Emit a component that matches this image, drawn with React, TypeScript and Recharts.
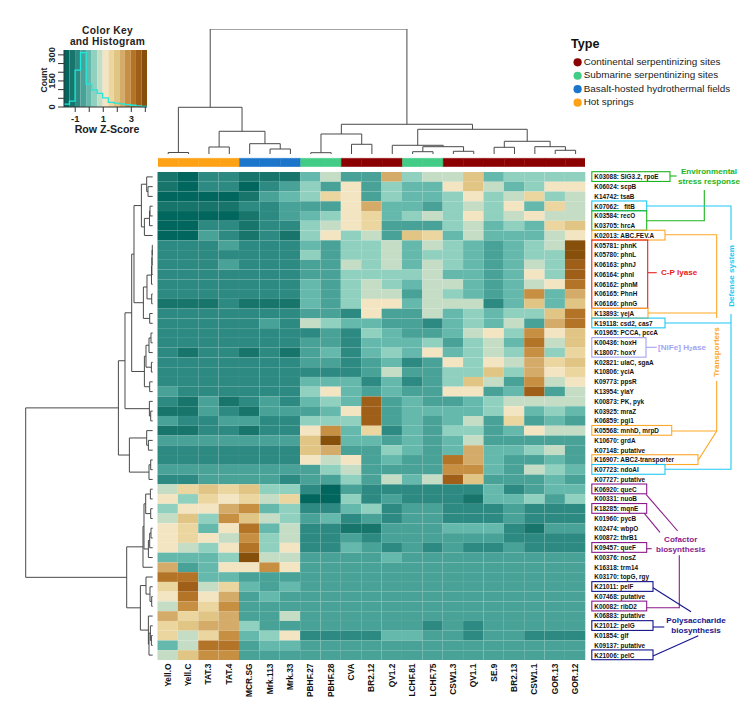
import React from 'react';
import {
  ComposedChart,
  Line,
  ReferenceArea,
  Scatter,
  ScatterChart,
  XAxis,
  YAxis,
} from 'recharts';

const FONT = '"Liberation Sans", Arial, sans-serif';

/* ─── Data ────────────────────────────────────────────────────────────── */

const SITES = [
  'Yell.O', 'Yell.C', 'TAT.3', 'TAT.4', 'MCR.SG', 'Mrk.113', 'Mrk.33', 'PBHF.27', 'PBHF.28', 'CVA', 'BR2.12',
  'QV1.2', 'LCHF.81', 'LCHF.75', 'CSW1.3', 'QV1.1', 'SE.9', 'BR2.13', 'CSW1.1', 'GOR.13', 'GOR.12',
];

const SITE_TYPES = [3, 3, 3, 3, 2, 2, 2, 1, 1, 0, 0, 0, 1, 1, 0, 0, 0, 0, 0, 0, 0];

const TYPE_NAMES = [
  'Continental serpentinizing sites',
  'Submarine serpentinizing sites',
  'Basalt-hosted hydrothermal fields',
  'Hot springs',
];
const TYPE_COLORS = ['#8B0000', '#42CC85', '#1B75CB', '#FFA114'];

const GENES = [
  'K03088: SIG3.2, rpoE', 'K06024: scpB', 'K14742: tsaB', 'K07062:\u00a0\u00a0\u00a0fitB', 'K03584: recO', 'K03705: hrcA',
  'K02013: ABC.FEV.A', 'K05781: phnK', 'K05780: phnL', 'K06163: phnJ', 'K06164: phnI', 'K06162: phnM', 'K06165: PhnH',
  'K06166: phnG', 'K13893: yejA', 'K19118: csd2, cas7', 'K01965: PCCA, pccA', 'K00436: hoxH', 'K18007: hoxY',
  'K02821: ulaC, sgaA', 'K10806: yciA', 'K09773: ppsR', 'K13954: yiaY', 'K00873: PK, pyk', 'K03925: mraZ',
  'K06859: pgi1', 'K05568: mnhD, mrpD', 'K10670: grdA', 'K07148: putative', 'K16907: ABC2-transporter',
  'K07723: ndoAI', 'K07727: putative', 'K06920: queC', 'K00331: nuoB', 'K18285: mqnE', 'K01960: pycB',
  'K02474: wbpO', 'K00872: thrB1', 'K09457: queF', 'K00376: nosZ', 'K16318: trm14', 'K03170: topG, rgy',
  'K21011: pelF', 'K07468: putative', 'K00082: ribD2', 'K06883: putative', 'K21012: pelG', 'K01854: glf',
  'K09137: putative', 'K21006: pelC',
];

// colour key bands, dark teal to dark brown
const BAND_COLORS = [
  '#01665E', '#17756C', '#2D8A82', '#49A297', '#65B9AC', '#90D0BF', '#C5DCC5', '#F4E5C2',
  '#ECD6A0', '#E0C585', '#D4AB68', '#C68F42', '#B37428', '#A05F18', '#86500A',
];

// band index of each cell, one line per gene
const HEAT = [
  [1, 0, 2, 2, 1, 1, 1, 4, 6, 3, 3, 10, 5, 6, 6, 9, 4, 5, 5, 5, 5],
  [1, 0, 2, 2, 0, 2, 3, 5, 3, 7, 3, 5, 4, 4, 7, 9, 6, 4, 5, 7, 7],
  [0, 0, 0, 0, 1, 3, 4, 5, 8, 7, 3, 5, 4, 4, 5, 7, 5, 6, 8, 5, 6],
  [1, 1, 1, 1, 2, 2, 3, 3, 3, 7, 10, 4, 4, 3, 5, 6, 5, 7, 4, 8, 6],
  [0, 0, 0, 0, 1, 2, 3, 4, 5, 7, 8, 4, 5, 6, 5, 7, 5, 6, 7, 6, 6],
  [0, 0, 2, 2, 1, 2, 2, 5, 6, 7, 8, 3, 3, 3, 5, 6, 4, 5, 4, 8, 9],
  [0, 0, 3, 2, 1, 2, 1, 5, 7, 5, 6, 3, 9, 8, 4, 6, 4, 4, 4, 6, 7],
  [2, 2, 2, 3, 2, 2, 2, 4, 3, 5, 5, 6, 4, 6, 5, 4, 3, 4, 5, 6, 14],
  [2, 2, 2, 2, 2, 2, 2, 5, 3, 5, 5, 6, 4, 5, 5, 4, 3, 4, 5, 5, 14],
  [2, 2, 2, 3, 2, 2, 2, 3, 3, 6, 5, 6, 4, 6, 5, 4, 3, 4, 6, 5, 13],
  [2, 2, 2, 2, 2, 2, 2, 3, 3, 5, 5, 5, 5, 6, 4, 4, 3, 4, 7, 5, 13],
  [2, 2, 2, 2, 2, 2, 2, 4, 3, 5, 6, 5, 4, 6, 6, 4, 3, 4, 6, 7, 12],
  [2, 2, 2, 2, 2, 2, 2, 4, 3, 5, 6, 6, 3, 6, 5, 4, 3, 4, 11, 4, 10],
  [1, 1, 1, 2, 1, 1, 1, 4, 3, 5, 7, 7, 4, 6, 6, 6, 2, 4, 9, 4, 9],
  [2, 2, 2, 2, 2, 2, 2, 3, 3, 2, 7, 3, 3, 6, 4, 5, 4, 5, 5, 9, 12],
  [2, 2, 2, 2, 2, 3, 2, 6, 5, 4, 4, 3, 3, 2, 4, 5, 4, 6, 3, 10, 12],
  [2, 2, 2, 2, 2, 2, 2, 2, 3, 2, 5, 4, 3, 3, 4, 6, 7, 5, 11, 7, 9],
  [2, 2, 2, 2, 2, 2, 2, 3, 3, 2, 4, 4, 4, 5, 3, 5, 6, 4, 12, 6, 9],
  [2, 1, 2, 2, 1, 2, 1, 3, 4, 2, 4, 5, 4, 7, 4, 5, 6, 5, 11, 5, 8],
  [2, 2, 2, 2, 2, 2, 2, 3, 3, 2, 3, 4, 2, 3, 7, 5, 7, 6, 10, 8, 9],
  [2, 2, 2, 2, 2, 2, 2, 2, 2, 2, 3, 6, 3, 3, 5, 5, 9, 5, 10, 7, 8],
  [2, 2, 2, 2, 2, 2, 2, 4, 4, 4, 2, 4, 2, 3, 5, 9, 6, 3, 11, 6, 7],
  [3, 2, 2, 2, 2, 2, 2, 5, 7, 4, 3, 4, 3, 3, 7, 7, 3, 4, 13, 3, 6],
  [2, 1, 3, 1, 2, 3, 2, 4, 5, 4, 13, 3, 4, 3, 3, 4, 5, 6, 6, 6, 6],
  [1, 1, 3, 2, 1, 3, 3, 3, 4, 7, 13, 3, 4, 4, 4, 4, 5, 7, 4, 5, 4],
  [3, 2, 2, 3, 3, 2, 2, 5, 5, 5, 13, 3, 4, 3, 4, 6, 3, 8, 3, 4, 3],
  [1, 1, 2, 2, 1, 2, 2, 7, 11, 4, 8, 2, 4, 3, 5, 5, 3, 4, 7, 6, 6],
  [3, 3, 3, 3, 3, 3, 3, 9, 14, 4, 4, 3, 4, 3, 4, 6, 3, 3, 3, 3, 3],
  [2, 2, 2, 2, 2, 2, 2, 9, 10, 3, 3, 5, 4, 3, 4, 10, 4, 4, 5, 6, 3],
  [2, 2, 2, 2, 2, 2, 2, 7, 6, 7, 3, 4, 3, 3, 12, 10, 4, 3, 3, 4, 3],
  [3, 3, 3, 3, 3, 3, 3, 3, 5, 6, 3, 3, 3, 3, 11, 11, 4, 3, 6, 5, 4],
  [2, 2, 3, 3, 3, 3, 2, 3, 3, 5, 3, 6, 4, 6, 13, 9, 3, 3, 3, 4, 3],
  [6, 8, 9, 8, 9, 5, 5, 2, 0, 3, 2, 2, 2, 2, 2, 2, 4, 2, 3, 4, 4],
  [7, 5, 8, 7, 8, 6, 8, 0, 0, 5, 2, 3, 2, 2, 2, 1, 4, 4, 5, 3, 5],
  [5, 7, 7, 10, 11, 4, 5, 2, 2, 4, 5, 2, 3, 3, 2, 2, 2, 3, 2, 2, 2],
  [6, 9, 5, 11, 9, 6, 5, 3, 4, 2, 3, 2, 3, 3, 2, 2, 2, 3, 2, 2, 2],
  [7, 8, 4, 7, 12, 4, 6, 2, 2, 1, 1, 3, 3, 3, 4, 4, 4, 2, 1, 3, 3],
  [7, 8, 7, 6, 11, 5, 6, 2, 2, 3, 2, 3, 3, 3, 3, 3, 3, 2, 2, 2, 2],
  [7, 6, 5, 7, 12, 5, 7, 2, 2, 4, 3, 2, 3, 2, 3, 2, 2, 3, 2, 2, 2],
  [4, 4, 4, 5, 14, 6, 6, 3, 3, 3, 3, 4, 3, 3, 3, 3, 3, 3, 3, 3, 3],
  [10, 3, 4, 7, 7, 11, 7, 3, 3, 3, 3, 3, 3, 3, 3, 3, 3, 3, 3, 3, 3],
  [12, 12, 4, 4, 3, 3, 3, 3, 3, 3, 3, 3, 3, 3, 3, 3, 3, 3, 3, 3, 3],
  [8, 13, 6, 8, 4, 3, 4, 3, 3, 3, 3, 3, 3, 3, 3, 3, 3, 3, 3, 3, 3],
  [7, 12, 7, 10, 3, 4, 3, 3, 3, 3, 3, 3, 3, 3, 3, 3, 3, 3, 3, 3, 3],
  [6, 11, 8, 11, 3, 3, 3, 3, 3, 3, 3, 3, 3, 3, 3, 3, 3, 3, 3, 3, 3],
  [10, 8, 9, 10, 3, 3, 6, 3, 3, 3, 3, 3, 3, 3, 3, 3, 3, 3, 3, 3, 3],
  [8, 9, 10, 10, 5, 3, 3, 3, 3, 3, 3, 3, 3, 2, 3, 2, 3, 3, 3, 3, 3],
  [8, 6, 8, 11, 4, 5, 7, 2, 2, 2, 2, 4, 4, 3, 3, 2, 3, 3, 2, 2, 2],
  [4, 6, 12, 12, 3, 4, 4, 3, 3, 3, 3, 3, 3, 3, 3, 3, 3, 3, 3, 3, 3],
  [6, 9, 11, 11, 3, 3, 3, 3, 3, 3, 3, 3, 3, 3, 3, 3, 3, 3, 3, 3, 3],
];

// merges as in hclust: negative = leaf, positive = earlier merge, then the height
const TOP_TREE = [
  [-1, -2, 1.5], [-3, -4, 7], [-6, -7, 5], [-5, 3, 10.3], [2, 4, 22.7], [1, 5, 46.7], [-8, -9, 1.3],
  [-10, -11, 9.7], [7, 8, 20], [-13, -14, 2.3], [-15, -16, 2.7], [10, 11, 7.3], [-12, 12, 8.7], [-17, -18, 6.7],
  [-20, -21, 3.7], [-19, 15, 7.3], [14, 16, 12.7], [13, 17, 24.7], [9, 18, 29.7], [6, 19, 125],
];

const LEFT_TREE = [
  [-2, -3, 4.7], [-1, 1, 6], [-4, -5, 2.7], [-6, 3, 3.2], [-7, 4, 8.3], [2, 5, 11.3],
  [-8, -9, 0.4], [-10, 7, 0.6], [-11, 8, 0.8], [-12, 9, 1.2], [-13, -14, 1], [10, 11, 5.7],
  [-15, -16, 3], [12, 13, 9.3], [6, 14, 18.7], [-17, -18, 1.7], [16, -19, 3.7], [-20, -21, 1.3],
  [17, 18, 6.7], [-22, -23, 3], [19, 20, 8.3], [15, 21, 21], [-25, -26, 2], [-24, 23, 3.3],
  [22, 24, 27.7], [-28, -29, 4.3], [-27, 26, 6], [-30, -31, 2], [28, -32, 3.7], [27, 29, 23.3],
  [25, 30, 34.3], [-33, -34, 2.3], [-35, -36, 2], [32, 33, 7], [-37, -38, 1.7], [35, -39, 3],
  [36, -40, 4.3], [34, 37, 8.7], [38, -41, 9.7], [-44, -45, 1], [-43, 40, 2.7], [-42, 41, 6.7],
  [-48, -49, 1.3], [-47, 43, 2.3], [-50, 44, 3.7], [-46, 45, 4.3], [42, 46, 12.3], [39, 47, 26],
  [31, 48, 127],
];

// colour key histogram
const KEY_EDGES = [-1.8, -1.41, -1.01, -0.62, -0.22, 0.17, 0.57, 0.96, 1.36, 1.75, 2.15, 2.54, 2.94, 3.33, 3.73, 4.12];
const KEY_COUNTS = [17, 34, 212, 313, 132, 99, 78, 52, 27, 22, 18, 14, 10, 6, 3];

/* ─── Annotations on the gene labels ──────────────────────────────────── */

const GREEN = '#1DB51D';
const CYAN = '#1EC8F5';
const ORANGE = '#FFA726';
const RED = '#E82020';
const LAVENDER = '#A3A3F2';
const PURPLE = '#8B1A8B';
const NAVY = '#14148C';

// first row, last row, right edge, colour
const BOXES: [number, number, number, string][] = [
  [0, 0, 670, GREEN],
  [3, 3, 646.7, CYAN],
  [4, 5, 646.7, GREEN],
  [6, 6, 665, ORANGE],
  [7, 13, 647.7, RED],
  [14, 14, 648, ORANGE],
  [15, 15, 665, CYAN],
  [17, 18, 646, LAVENDER],
  [26, 26, 671.7, ORANGE],
  [29, 29, 698, ORANGE],
  [30, 30, 665, CYAN],
  [32, 32, 646.7, PURPLE],
  [34, 34, 646.7, PURPLE],
  [38, 38, 646.7, PURPLE],
  [42, 42, 653, NAVY],
  [44, 44, 646.7, PURPLE],
  [46, 46, 653, NAVY],
  [49, 49, 653, NAVY],
];

const CONNECTORS: [string, string][] = [
  [GREEN, '670,176 676.7,176'],
  [GREEN, '646.7,220.7 704.3,220.7 704.3,190'],
  [CYAN, '646.7,206 731,206 731,240'],
  [CYAN, '731,314 731,469.3 665,469.3'],
  [CYAN, '665,323 731,323'],
  [ORANGE, '665,234.7 716.7,234.7 716.7,318'],
  [ORANGE, '648,313 716.7,313'],
  [ORANGE, '716.7,381 716.7,431 698.3,460'],
  [ORANGE, '671.7,431 716.7,431'],
  [RED, '648,272.7 656.7,272.7'],
  [LAVENDER, '646,347.3 656.7,347.3'],
  [PURPLE, '646,494.3 677.7,531'],
  [PURPLE, '644.3,513.3 660,532.3'],
  [PURPLE, '646.7,548.7 651.7,548.7'],
  [PURPLE, '646.7,607.7 679.3,607.7 679.3,555.3'],
  [NAVY, '653,587.7 691,611.7'],
  [NAVY, '653,627 664.3,627'],
  [NAVY, '653,656 698.3,635.7'],
];

// text, x, y, colour, anchor, rotated
const NOTES: [string, number, number, string, string, boolean][] = [
  ['Environmental', 709, 171.7, GREEN, 'middle', false],
  ['stress response', 709, 181.7, GREEN, 'middle', false],
  ['Defense system', 731, 276, CYAN, 'middle', true],
  ['Transporters', 716.7, 352, ORANGE, 'middle', true],
  ['C-P lyase', 661, 272.7, RED, 'start', false],
  ['Cofactor', 680.7, 539.3, PURPLE, 'middle', false],
  ['biosynthesis', 680.7, 549.7, PURPLE, 'middle', false],
  ['Polysaccharide', 696, 620, NAVY, 'middle', false],
  ['biosynthesis', 696, 630, NAVY, 'middle', false],
];

/* ─── Layout ──────────────────────────────────────────────────────────── */

const PLOT_LEFT = 157.5;
const PLOT_RIGHT = 585.3;
const PLOT_TOP = 172;
const PLOT_BOTTOM = 660;
const CELL_W = (PLOT_RIGHT - PLOT_LEFT) / SITES.length;
const CELL_H = (PLOT_BOTTOM - PLOT_TOP) / GENES.length;
const TREE_COLOR = '#484848';

/* ─── Helpers ─────────────────────────────────────────────────────────── */

const cells = HEAT.flatMap((row, r) =>
  row.map((band, c) => ({ col: c + 0.5, row: r + 0.5, band })),
);
const colTicks = SITES.map((_, i) => i + 0.5);
const rowTicks = GENES.map((_, i) => i + 0.5);
const keyData = [
  ...KEY_COUNTS.map((count, i) => ({ z: KEY_EDGES[i], count })),
  { z: KEY_EDGES[KEY_EDGES.length - 1], count: KEY_COUNTS[KEY_COUNTS.length - 1] },
];

// each merge becomes a 4-point bracket in (position, height)
function brackets(merges: number[][]) {
  const pos: number[] = [];
  const hgt: number[] = [];
  return merges.map(([a, b, h]) => {
    const pa = a < 0 ? -a - 0.5 : pos[a - 1];
    const pb = b < 0 ? -b - 0.5 : pos[b - 1];
    const ha = a < 0 ? 0 : hgt[a - 1];
    const hb = b < 0 ? 0 : hgt[b - 1];
    pos.push((pa + pb) / 2);
    hgt.push(h);
    return [
      { p: pa, h: ha },
      { p: pa, h },
      { p: pb, h },
      { p: pb, h: hb },
    ];
  });
}

const NoDot = () => <g />;

function HeatCell(props: any) {
  const { cx, cy, payload } = props;
  return (
    <rect
      x={cx - CELL_W / 2}
      y={cy - CELL_H / 2}
      width={CELL_W}
      height={CELL_H}
      fill={BAND_COLORS[payload.band]}
      stroke="rgba(255,255,255,0.04)"
      strokeWidth={0.6}
    />
  );
}

function SiteTick({ x, y, payload }: any) {
  return (
    <text
      transform={`translate(${x + 3},${y - 4.5}) rotate(-90)`}
      textAnchor="end"
      fontFamily={FONT}
      fontSize={8.4}
      fontWeight={700}
      fill="#111"
    >
      {SITES[Math.floor(payload.value)]}
    </text>
  );
}

function GeneTick({ x, y, payload }: any) {
  return (
    <text x={x + 1} y={y + 2.4} fontFamily={FONT} fontSize={6.4} fontWeight={700} fill="#111">
      {GENES[Math.floor(payload.value)]}
    </text>
  );
}

function CountTick({ x, y, payload }: any) {
  if (payload.value % 150 !== 0) return null;
  return (
    <text
      transform={`translate(${x - 1},${y}) rotate(-90)`}
      textAnchor="middle"
      fontFamily={FONT}
      fontSize={9.4}
      fontWeight={700}
      fill="#222"
    >
      {payload.value}
    </text>
  );
}

/* ─── Main export ─────────────────────────────────────────────────────── */

const layer: React.CSSProperties = { position: 'absolute', left: 0, top: 0 };

export default function App() {
  return (
    <div style={{ position: 'absolute', left: 0, top: 0, width: 753, height: 713, background: '#fff' }}>
      {/* heatmap */}
      <div style={layer}>
        <ScatterChart
          width={753}
          height={713}
          margin={{ top: PLOT_TOP, left: PLOT_LEFT, right: 0, bottom: 0 }}
        >
          <XAxis
            type="number"
            dataKey="col"
            domain={[0, SITES.length]}
            ticks={colTicks}
            interval={0}
            height={713 - PLOT_BOTTOM}
            axisLine={false}
            tickLine={false}
            tick={<SiteTick />}
          />
          <YAxis
            type="number"
            dataKey="row"
            orientation="right"
            reversed
            domain={[0, GENES.length]}
            ticks={rowTicks}
            interval={0}
            width={753 - PLOT_RIGHT}
            axisLine={false}
            tickLine={false}
            tick={<GeneTick />}
          />
          <Scatter data={cells} shape={<HeatCell />} isAnimationActive={false} />
        </ScatterChart>
      </div>

      {/* column dendrogram and site type bar */}
      <div style={{ ...layer, left: PLOT_LEFT, top: 29 }}>
        <ScatterChart width={PLOT_RIGHT - PLOT_LEFT} height={137.7} margin={{ top: 0, left: 0, right: 0, bottom: 0 }}>
          <XAxis type="number" dataKey="p" domain={[0, SITES.length]} hide />
          <YAxis type="number" dataKey="h" domain={[-12.7, 125]} hide />
          {SITE_TYPES.map((t, i) => (
            <ReferenceArea
              key={i}
              x1={i}
              x2={i + 1}
              y1={-12.7}
              y2={-4.3}
              fill={TYPE_COLORS[t]}
              fillOpacity={1}
              stroke={TYPE_COLORS[t]}
              strokeWidth={0.4}
            />
          ))}
          {brackets(TOP_TREE).map((pts, i) => (
            <Scatter
              key={i}
              data={pts}
              line={{ stroke: TREE_COLOR, strokeWidth: 1 }}
              lineType="joint"
              shape={NoDot}
              isAnimationActive={false}
            />
          ))}
        </ScatterChart>
      </div>

      {/* row dendrogram */}
      <div style={{ ...layer, left: 20, top: PLOT_TOP }}>
        <ScatterChart width={132.7} height={PLOT_BOTTOM - PLOT_TOP} margin={{ top: 0, left: 0, right: 0, bottom: 0 }}>
          <XAxis type="number" dataKey="h" reversed domain={[0, 132.7]} hide />
          <YAxis type="number" dataKey="p" reversed domain={[0, GENES.length]} hide />
          {brackets(LEFT_TREE).map((pts, i) => (
            <Scatter
              key={i}
              data={pts}
              line={{ stroke: TREE_COLOR, strokeWidth: 1 }}
              lineType="joint"
              shape={NoDot}
              isAnimationActive={false}
            />
          ))}
        </ScatterChart>
      </div>

      {/* colour key */}
      <div style={layer}>
        <ComposedChart
          width={200}
          height={136}
          data={keyData}
          margin={{ top: 50, left: 40, right: 53, bottom: 0 }}
        >
          <XAxis
            type="number"
            dataKey="z"
            domain={[KEY_EDGES[0], KEY_EDGES[KEY_EDGES.length - 1]]}
            ticks={[-1, 0, 1, 2, 3, 4]}
            interval={0}
            height={29}
            tickSize={5}
            tickMargin={3}
            tickFormatter={(v: number) => (v === -1 || v === 1 || v === 3 ? String(v) : '')}
            tick={{ fontFamily: FONT, fontSize: 9.4, fontWeight: 700, fill: '#222' }}
            stroke="#333"
          />
          <YAxis
            type="number"
            domain={[0, 328]}
            ticks={[0, 50, 100, 150, 200, 250, 300]}
            interval={0}
            width={24}
            tickSize={6}
            tick={<CountTick />}
            stroke="#333"
          />
          {KEY_COUNTS.map((_, i) => (
            <ReferenceArea
              key={i}
              x1={KEY_EDGES[i]}
              x2={KEY_EDGES[i + 1]}
              y1={0}
              y2={328}
              fill={BAND_COLORS[i]}
              fillOpacity={1}
              stroke="none"
            />
          ))}
          <Line
            dataKey="count"
            type="stepAfter"
            stroke="#20E8DC"
            strokeWidth={1.3}
            dot={false}
            isAnimationActive={false}
          />
        </ComposedChart>
      </div>

      {/* titles, legend and gene group notes */}
      <svg style={{ ...layer, pointerEvents: 'none' }} width={753} height={713} fontFamily={FONT}>
        <text x={107.5} y={33.6} textAnchor="middle" fontSize={10.2} letterSpacing={0.3} fontWeight={700} fill="#222">Color Key</text>
        <text x={107.5} y={45.1} textAnchor="middle" fontSize={10.2} letterSpacing={0.3} fontWeight={700} fill="#222">and Histogram</text>
        <text x={107} y={132.5} textAnchor="middle" fontSize={10.6} fontWeight={700} fill="#222">Row Z-Score</text>
        <text transform="translate(47,80) rotate(-90)" textAnchor="middle" fontSize={8.6} fontWeight={700} fill="#222">Count</text>

        <text x={571} y={47.5} fontSize={12.6} fontWeight={700} fill="#111">Type</text>
        {TYPE_NAMES.map((name, i) => (
          <g key={name}>
            <circle cx={577.6} cy={62.3 + i * 13.45} r={4.1} fill={TYPE_COLORS[i]} />
            <text x={583.7} y={64.6 + i * 13.45} fontSize={9.9} fill="#222">{name}</text>
          </g>
        ))}

        {BOXES.map(([first, last, right, color], i) => (
          <rect
            key={i}
            x={591.8}
            y={PLOT_TOP + first * CELL_H - 0.3}
            width={right - 591.8}
            height={(last - first + 1) * CELL_H}
            fill="none"
            stroke={color}
            strokeWidth={1.1}
          />
        ))}
        {CONNECTORS.map(([color, pts], i) => (
          <polyline key={i} points={pts} fill="none" stroke={color} strokeWidth={1.1} />
        ))}
        {NOTES.map(([text, x, y, color, anchor, rotated], i) => (
          <text
            key={i}
            transform={`translate(${x},${y})${rotated ? ' rotate(-90)' : ''}`}
            textAnchor={anchor as any}
            dominantBaseline="central"
            fontSize={8.1}
            fontWeight={700}
            fill={color}
          >
            {text}
          </text>
        ))}
        <text x={658} y={347.3} dominantBaseline="central" fontSize={8.1} fontWeight={700} fill={LAVENDER}>
          [NiFe] H<tspan fontSize={6} dy={2}>2</tspan><tspan dy={-2}>ase</tspan>
        </text>
      </svg>
    </div>
  );
}
